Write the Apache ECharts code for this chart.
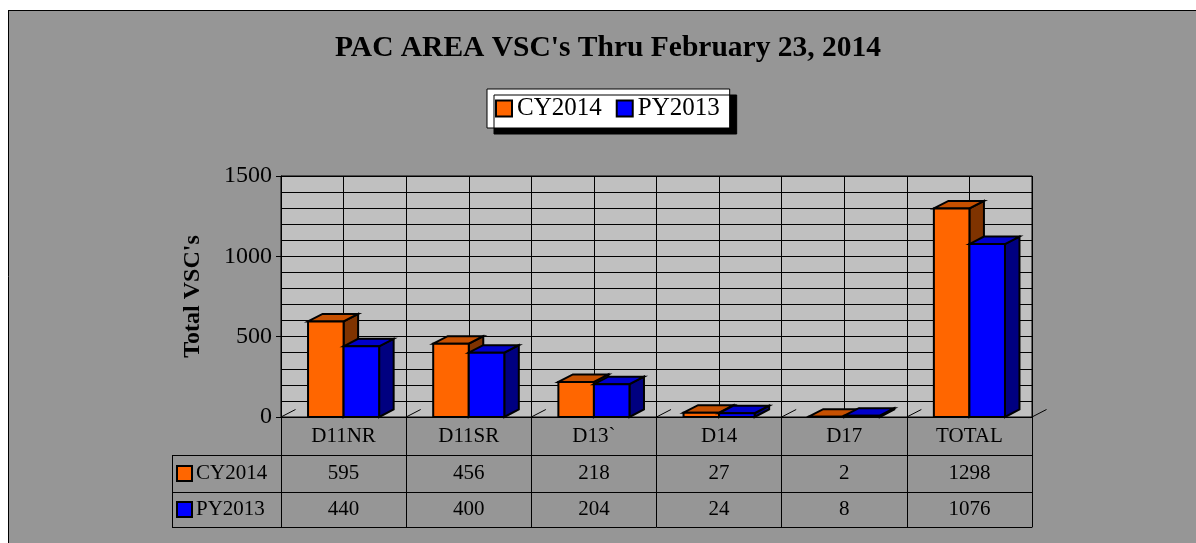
<!DOCTYPE html>
<html>
<head>
<meta charset="utf-8">
<script src="https://cdn.jsdelivr.net/npm/echarts@6/dist/echarts.min.js"></script>
<style>
html,body{margin:0;padding:0;background:#fff;}
#c{width:1196px;height:543px;}
</style>
</head>
<body>
<div id="c"></div>
<script>
// ---- data ----
const categories = ['D11NR', 'D11SR', 'D13`', 'D14', 'D17', 'TOTAL'];
const cy2014 = [595, 456, 218, 27, 2, 1298];
const py2013 = [440, 400, 204, 24, 8, 1076];
const seriesNames = ['CY2014', 'PY2013'];
const yMin = 0, yMax = 1500, yMajor = 500;

// ---- styles ----
const FONT = 'Liberation Serif';
const COLORS = [
  { front: '#FF6600', top: '#C65000', side: '#7F3300' },
  { front: '#0000FF', top: '#0000CC', side: '#000080' }
];
const G = { left: 281, top: 176, width: 751, height: 241 };

const chart = echarts.init(document.getElementById('c'), null, { renderer: 'canvas' });

function make3D(sIdx) {
  const col = COLORS[sIdx];
  return function (params, api) {
    const i = api.value(0), v = api.value(1);
    const top = api.coord([i, v]);
    const base = api.coord([i, 0]);
    const cw = api.size([1, 0])[0];
    const bw = cw * 0.284;
    const dx = cw * 0.116, dy = -cw * 0.06;
    const cx = top[0];
    const x0 = sIdx === 0 ? cx - bw : cx;
    const x1 = x0 + bw;
    const yT = top[1], yB = base[1];
    const st = { stroke: '#000', lineWidth: 2, lineJoin: 'miter' };
    const children = [];
    if (sIdx === 0) {
      const lx = cx - cw / 2;
      children.push({ type: 'line', shape: { x1: lx, y1: yB, x2: lx + dx, y2: yB + dy }, style: { stroke: '#000', lineWidth: 1 } });
      if (i === categories.length - 1) {
        const rx = cx + cw / 2;
        children.push({ type: 'line', shape: { x1: rx, y1: yB, x2: rx + dx, y2: yB + dy }, style: { stroke: '#000', lineWidth: 1 } });
      }
    }
    children.push({ type: 'polygon', shape: { points: [[x1, yT], [x1 + dx, yT + dy], [x1 + dx, yB + dy], [x1, yB]] }, style: Object.assign({ fill: col.side }, st) });
    children.push({ type: 'polygon', shape: { points: [[x0, yT], [x0 + dx, yT + dy], [x1 + dx, yT + dy], [x1, yT]] }, style: Object.assign({ fill: col.top }, st) });
    children.push({ type: 'rect', shape: { x: x0, y: yT, width: bw, height: Math.max(yB - yT, 0) }, style: Object.assign({ fill: col.front }, st) });
    return { type: 'group', children: children };
  };
}

function rowAxis(values, offset, margin, tickLen) {
  return {
    type: 'category', data: categories, position: 'bottom', offset: offset, gridIndex: 0,
    axisLine: { show: true, lineStyle: { color: '#000', width: 1 } },
    axisTick: { show: true, length: tickLen, lineStyle: { color: '#000', width: 1 } },
    axisLabel: {
      show: true, margin: margin, verticalAlign: 'middle', color: '#000',
      fontFamily: FONT, fontSize: 21,
      formatter: function (val, idx) { return values ? String(values[idx]) : val; }
    },
    splitLine: { show: false }
  };
}

const rowY = [455, 492, 527];
const keyGraphics = [];
seriesNames.forEach(function (name, k) {
  const yc = (rowY[k] + rowY[k + 1]) / 2;
  keyGraphics.push({ type: 'rect', shape: { x: 177, y: yc - 7.5, width: 15, height: 15 }, style: { fill: COLORS[k].front, stroke: '#000', lineWidth: 2 }, z: 10 });
  keyGraphics.push({ type: 'text', x: 196, y: yc, style: { text: name, fill: '#000', font: '21px "' + FONT + '"', textVerticalAlign: 'middle' }, z: 10 });
});

const option = {
  backgroundColor: '#969696',
  animation: false,
  title: {
    text: "PAC AREA VSC's Thru February 23, 2014",
    left: 335, top: 33, padding: 0,
    textStyle: { fontFamily: FONT, fontSize: 29.5, fontWeight: 'bold', color: '#000' }
  },
  legend: {
    data: seriesNames,
    left: 487, top: 89,
    padding: [7, 10, 7, 8],
    itemWidth: 16, itemHeight: 16, itemGap: 14,
    icon: 'rect',
    selectedMode: false,
    backgroundColor: '#fff',
    borderColor: '#000', borderWidth: 1,
    shadowColor: '#000', shadowBlur: 0, shadowOffsetX: 7, shadowOffsetY: 6,
    textStyle: { fontFamily: FONT, fontSize: 25, color: '#000', lineHeight: 25 },
    itemStyle: { borderColor: '#000', borderWidth: 2 }
  },
  grid: {
    left: G.left, top: G.top, width: G.width, height: G.height,
    show: true, backgroundColor: '#C0C0C0', borderColor: '#000', borderWidth: 1
  },
  xAxis: [
    rowAxis(null, 0, 19, 38),
    rowAxis(cy2014, 38, 18.5, 37),
    rowAxis(py2013, 75, 17.5, 35),
    {
      type: 'category', data: categories, position: 'bottom', offset: 110,
      axisLine: { show: true, lineStyle: { color: '#000', width: 1 } },
      axisTick: { show: false }, axisLabel: { show: false }, splitLine: { show: false }
    },
    {
      type: 'value', position: 'top', min: 0, max: categories.length * 2, interval: 1,
      axisLine: { show: false }, axisTick: { show: false }, axisLabel: { show: false },
      splitLine: { show: true, lineStyle: { color: '#000', width: 1 } }
    }
  ],
  yAxis: {
    type: 'value', min: yMin, max: yMax, interval: yMajor,
    name: "Total VSC's", nameLocation: 'middle', nameGap: 76, nameRotate: 90,
    nameTextStyle: { fontFamily: FONT, fontSize: 24, fontWeight: 'bold', color: '#000' },
    axisLine: { show: true, lineStyle: { color: '#000', width: 1 } },
    axisTick: { show: true, length: 5, lineStyle: { color: '#000', width: 1 } },
    axisLabel: { margin: 9, color: '#000', fontFamily: FONT, fontSize: 24, formatter: function (v) { return String(v); } },
    splitLine: { show: true, lineStyle: { color: '#000', width: 1 } },
    minorTick: { show: false, splitNumber: 5 },
    minorSplitLine: { show: true, lineStyle: { color: '#000', width: 1 } }
  },
  series: [
    {
      name: seriesNames[0], type: 'custom', clip: false, xAxisIndex: 0, yAxisIndex: 0,
      itemStyle: { color: COLORS[0].front },
      renderItem: make3D(0),
      encode: { x: 0, y: 1 },
      data: categories.map(function (c, i) { return [i, cy2014[i]]; })
    },
    {
      name: seriesNames[1], type: 'custom', clip: false, xAxisIndex: 0, yAxisIndex: 0,
      itemStyle: { color: COLORS[1].front },
      renderItem: make3D(1),
      encode: { x: 0, y: 1 },
      data: categories.map(function (c, i) { return [i, py2013[i]]; })
    }
  ],
  graphic: [
    { type: 'rect', shape: { x: 0, y: 0, width: 1196, height: 10 }, style: { fill: '#fff' }, z: -1, silent: true },
    { type: 'rect', shape: { x: 0, y: 0, width: 8, height: 543 }, style: { fill: '#fff' }, z: -1, silent: true },
    { type: 'line', shape: { x1: 8, y1: 10.5, x2: 1196, y2: 10.5 }, style: { stroke: '#000', lineWidth: 1 }, silent: true },
    { type: 'line', shape: { x1: 8.5, y1: 10, x2: 8.5, y2: 543 }, style: { stroke: '#000', lineWidth: 1 }, silent: true },
    // left column of data table
    { type: 'line', shape: { x1: 172, y1: 455.5, x2: 281, y2: 455.5 }, style: { stroke: '#000', lineWidth: 1 }, silent: true },
    { type: 'line', shape: { x1: 172, y1: 492.5, x2: 281, y2: 492.5 }, style: { stroke: '#000', lineWidth: 1 }, silent: true },
    { type: 'line', shape: { x1: 172, y1: 527.5, x2: 281, y2: 527.5 }, style: { stroke: '#000', lineWidth: 1 }, silent: true },
    { type: 'line', shape: { x1: 172.5, y1: 455, x2: 172.5, y2: 528 }, style: { stroke: '#000', lineWidth: 1 }, silent: true }
  ].concat(keyGraphics)
};

chart.setOption(option);
</script>
</body>
</html>
